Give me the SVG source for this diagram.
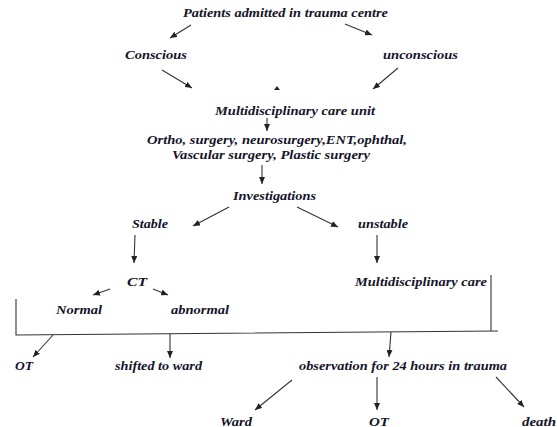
<svg xmlns="http://www.w3.org/2000/svg" width="557" height="427" viewBox="0 0 557 427">
<defs>
<marker id="ah" markerWidth="7" markerHeight="6" refX="7" refY="3" orient="auto" markerUnits="userSpaceOnUse">
<path d="M0,0 L7,3 L0,6 Z" fill="#222"/>
</marker>
<style>
.t{font-family:"Liberation Serif","Times New Roman",serif;font-weight:bold;font-style:italic;font-size:13.5px;fill:#14142a}
.c line,.c polyline{stroke:#333;stroke-width:1.1;fill:none}
.c .a{marker-end:url(#ah)}
</style>
</defs>
<rect width="557" height="427" fill="#fff"/>
<g class="c" id="connectors">
<line class="a" x1="191" y1="25" x2="170" y2="38"/>
<line class="a" x1="345" y1="24" x2="372" y2="35"/>
<line class="a" x1="162" y1="70" x2="192" y2="88"/>
<line class="a" x1="398" y1="68" x2="373" y2="89"/>
<path d="M274,90 L277,86 L280,90 Z" fill="#222"/>
<line class="a" x1="267" y1="118" x2="267" y2="131"/>
<line class="a" x1="262" y1="165" x2="262" y2="184"/>
<line class="a" x1="229" y1="207" x2="193" y2="226"/>
<line class="a" x1="297" y1="207" x2="338" y2="227"/>
<line class="a" x1="135" y1="235" x2="134" y2="263"/>
<line class="a" x1="377" y1="235" x2="377" y2="263"/>
<line class="a" x1="110" y1="289" x2="93" y2="295"/>
<line class="a" x1="153" y1="289" x2="168" y2="295"/>
<polyline points="16,299 16,335 498,331"/>
<line x1="491" y1="275" x2="491" y2="331"/>
<line class="a" x1="53" y1="335" x2="33" y2="357"/>
<line class="a" x1="170" y1="334" x2="170" y2="358"/>
<line class="a" x1="391" y1="332" x2="389" y2="357"/>
<line class="a" x1="292" y1="380" x2="255" y2="410"/>
<line class="a" x1="377" y1="377" x2="377" y2="410"/>
<line class="a" x1="496" y1="377" x2="524" y2="407"/>
</g>
<g id="n-patients"><text class="t" x="183" y="17" textLength="205" lengthAdjust="spacingAndGlyphs">Patients admitted in trauma centre</text></g>
<g id="n-conscious"><text class="t" x="125" y="59" textLength="62" lengthAdjust="spacingAndGlyphs">Conscious</text></g>
<g id="n-unconscious"><text class="t" x="383" y="59" textLength="75" lengthAdjust="spacingAndGlyphs">unconscious</text></g>
<g id="n-mcu"><text class="t" x="215" y="115" textLength="160" lengthAdjust="spacingAndGlyphs">Multidisciplinary care unit</text></g>
<g id="n-specialties">
<text class="t" x="147" y="144" textLength="260" lengthAdjust="spacingAndGlyphs">Ortho, surgery, neurosurgery,ENT,ophthal,</text>
<text class="t" x="172" y="159" textLength="198" lengthAdjust="spacingAndGlyphs">Vascular surgery, Plastic surgery</text>
</g>
<g id="n-investigations"><text class="t" x="233" y="200" textLength="83" lengthAdjust="spacingAndGlyphs">Investigations</text></g>
<g id="n-stable"><text class="t" x="132" y="228" textLength="36" lengthAdjust="spacingAndGlyphs">Stable</text></g>
<g id="n-unstable"><text class="t" x="358" y="228" textLength="50" lengthAdjust="spacingAndGlyphs">unstable</text></g>
<g id="n-ct"><text class="t" x="127" y="286" textLength="20" lengthAdjust="spacingAndGlyphs">CT</text></g>
<g id="n-mc"><text class="t" x="355" y="286" textLength="132" lengthAdjust="spacingAndGlyphs">Multidisciplinary care</text></g>
<g id="n-normal"><text class="t" x="56" y="314" textLength="46" lengthAdjust="spacingAndGlyphs">Normal</text></g>
<g id="n-abnormal"><text class="t" x="171" y="314" textLength="58" lengthAdjust="spacingAndGlyphs">abnormal</text></g>
<g id="n-ot1"><text class="t" x="15" y="370" textLength="18" lengthAdjust="spacingAndGlyphs">OT</text></g>
<g id="n-shifted"><text class="t" x="115" y="370" textLength="87" lengthAdjust="spacingAndGlyphs">shifted to ward</text></g>
<g id="n-observation"><text class="t" x="299" y="370" textLength="208" lengthAdjust="spacingAndGlyphs">observation for 24 hours in trauma</text></g>
<g id="n-ward"><text class="t" x="220" y="425.5" textLength="32" lengthAdjust="spacingAndGlyphs">Ward</text></g>
<g id="n-ot2"><text class="t" x="369" y="425.5" textLength="20" lengthAdjust="spacingAndGlyphs">OT</text></g>
<g id="n-death"><text class="t" x="522" y="425.5" textLength="34" lengthAdjust="spacingAndGlyphs">death</text></g>
</svg>
